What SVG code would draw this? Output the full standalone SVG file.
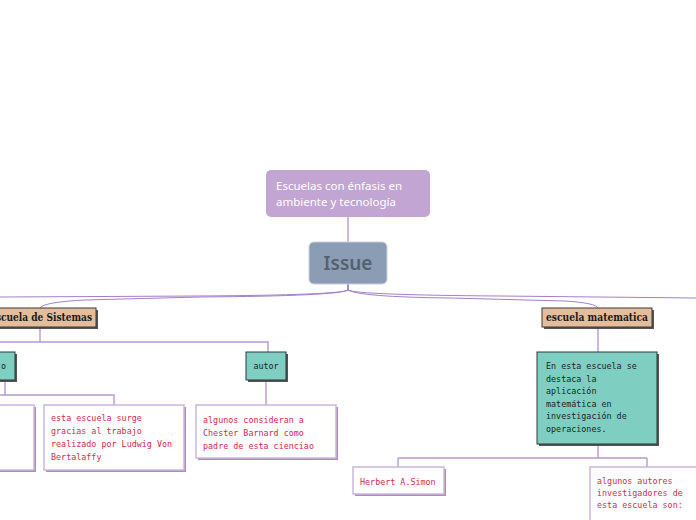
<svg xmlns="http://www.w3.org/2000/svg" width="696" height="520" viewBox="0 0 696 520">
<style>
.con{fill:none;stroke:#b899d2;stroke-width:1.4}
.main{fill:none;stroke:#a47fc8;stroke-width:1}
.tan{fill:#e3bd9c;stroke:#3a3a3a;stroke-width:1}
.teal{fill:#7ecec1;stroke:#2f3a38;stroke-width:1}
.dsh{fill:#555}
.wb{fill:#fff;stroke:#cbb5dd;stroke-width:1.5}
.wsh{fill:#a98bc7}
.ser{font-family:"DejaVu Serif","Liberation Serif",serif;font-weight:bold;font-size:10.5px;fill:#1a1a1a}
.mono{font-family:"DejaVu Sans Mono","Liberation Mono",monospace;font-size:8.4px}
.red{fill:#d42a4e}
.blk{fill:#1d2523}
</style>
<rect width="696" height="520" fill="#fff"/>
<g id="connectors">
<path class="con" d="M348,217 V242"/>
<path class="main" d="M348,284 V290 Q340,295 200,296 L0,297"/>
<path class="main" d="M348,284 V290 Q338,296 200,297 L85,300 Q44,302 40,308"/>
<path class="main" d="M348,284 V290 Q358,295 500,296 L696,298"/>
<path class="main" d="M348,284 V290 Q360,297 450,298 L565,301 Q596,303 598,308"/>
<path class="con" d="M40,327 V342 M0,342 H268 V352"/>
<path class="con" d="M5,380 V395 M0,395 H114 V405"/>
<path class="con" d="M266,380 V405"/>
<path class="con" d="M598,327 V352"/>
<path class="con" d="M598,444 V458 M398,458 H647 M398,458 V467 M647,458 V467"/>
</g>
<g id="n-top">
<rect x="266" y="170" width="164" height="47" rx="5" fill="#c3a5d3"/>
<text x="276" y="190" font-family="Noto Sans,Open Sans,sans-serif" font-size="11.5" fill="#fff">Escuelas con énfasis en</text>
<text x="276" y="206" font-family="Noto Sans,Open Sans,sans-serif" font-size="11.5" fill="#fff">ambiente y tecnología</text>
</g>
<g id="n-issue">
<rect x="309" y="242" width="78" height="42" rx="5" fill="#8b9db5" stroke="#c9cfd8" stroke-width="1"/>
<text x="348" y="270" text-anchor="middle" font-family="Noto Sans,Lato,sans-serif" font-size="19" font-weight="600" fill="#56606e">Issue</text>
</g>
<g id="n-sistemas">
<rect class="dsh" x="-8" y="310" width="106" height="19"/>
<rect class="tan" x="-10" y="308" width="106" height="19"/>
<text class="ser" x="-11" y="321" textLength="103" lengthAdjust="spacingAndGlyphs">Escuela de Sistemas</text>
</g>
<g id="n-matematica">
<rect class="dsh" x="544" y="310" width="110" height="19"/>
<rect class="tan" x="542" y="308" width="110" height="19"/>
<text class="ser" x="546" y="321" textLength="102" lengthAdjust="spacingAndGlyphs">escuela matematica</text>
</g>
<g id="n-left-teal">
<rect class="dsh" x="-8" y="354" width="25" height="28"/>
<rect class="teal" x="-10" y="352" width="25" height="28"/>
<text class="mono blk" x="1" y="369">o</text>
</g>
<g id="n-autor">
<rect class="dsh" x="248" y="354" width="40" height="28"/>
<rect class="teal" x="246" y="352" width="40" height="28"/>
<text class="mono blk" x="266" y="369" text-anchor="middle">autor</text>
</g>
<g id="n-enesta">
<rect class="dsh" x="539" y="354" width="120" height="92"/>
<rect class="teal" x="537" y="352" width="120" height="92"/>
<text class="mono blk" x="546" y="369">En esta escuela se</text>
<text class="mono blk" x="546" y="381.5">destaca la</text>
<text class="mono blk" x="546" y="394">aplicación</text>
<text class="mono blk" x="546" y="406.5">matemática en</text>
<text class="mono blk" x="546" y="419">investigación de</text>
<text class="mono blk" x="546" y="431.5">operaciones.</text>
</g>
<g id="n-leftwhite">
<rect class="wsh" x="-8" y="407" width="44" height="65"/>
<rect class="wb" x="-10" y="405" width="44" height="65"/>
</g>
<g id="n-esta">
<rect class="wsh" x="46" y="407" width="140" height="65"/>
<rect class="wb" x="44" y="405" width="140" height="65"/>
<text class="mono red" x="51" y="421">esta escuela surge</text>
<text class="mono red" x="51" y="434">gracias  al trabajo</text>
<text class="mono red" x="51" y="447">realizado por Ludwig Von</text>
<text class="mono red" x="51" y="460">Bertalaffy</text>
</g>
<g id="n-algunos">
<rect class="wsh" x="198" y="407" width="140" height="53"/>
<rect class="wb" x="196" y="405" width="140" height="53"/>
<text class="mono red" x="203" y="423">algunos consideran a</text>
<text class="mono red" x="203" y="436">Chester Barnard como</text>
<text class="mono red" x="203" y="449">padre de esta cienciao</text>
</g>
<g id="n-herbert">
<rect class="wsh" x="355" y="469" width="91" height="27"/>
<rect class="wb" x="353" y="467" width="91" height="27"/>
<text class="mono red" x="360" y="485">Herbert A.Simon</text>
</g>
<g id="n-autores">
<rect class="wb" x="590" y="467" width="120" height="60"/>
<text class="mono red" x="597" y="484">algunos autores</text>
<text class="mono red" x="597" y="496">investigadores de</text>
<text class="mono red" x="597" y="508">esta escuela son:</text>
</g>
</svg>
